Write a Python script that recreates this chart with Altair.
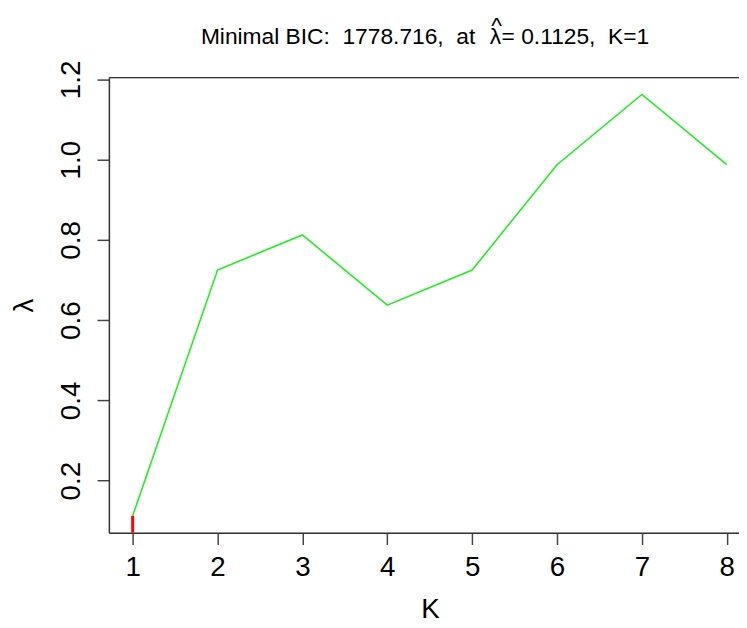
import altair as alt
import pandas as pd

K = [1, 2, 3, 4, 5, 6, 7, 8]
lam = [0.1125, 0.725, 0.8125, 0.6375, 0.725, 0.9875, 1.1625, 0.9875]
best_K = [1]
best_lam = [0.1125]
y_ticks = [0.2, 0.4, 0.6, 0.8, 1.0, 1.2]
title_parts = ["Minimal BIC:\u00a0 1778.716,\u00a0 at", "λ", "= 0.1125,\u00a0 K=1", "^"]

W, H = 637, 460
FONT = "Liberation Sans"

df = pd.DataFrame({"K": K, "lam": lam})
best = pd.DataFrame({"K": best_K, "lam": best_lam})

xscale = alt.Scale(domain=[0.72, 8.144], nice=False, zero=False)
yscale = alt.Scale(domain=[0.0705, 1.2045], nice=False, zero=False)

xaxis = alt.Axis(values=K, format="d", title="K", labelFontSize=28, titleFontSize=28,
                 labelFont=FONT, titleFont=FONT, labelColor="black", titleColor="black",
                 tickSize=12, tickColor="#444", tickWidth=1.5, domainColor="#333", domainWidth=1.5,
                 labelPadding=9, grid=False, titleFontWeight="normal",
                 titleX=324.5, titleY=78, titleBaseline="middle", titleAlign="center")
yaxis = alt.Axis(values=y_ticks, format=".1f", title="λ", labelFontSize=28, titleFontSize=28,
                 labelFont=FONT, titleFont=FONT, labelColor="black", titleColor="black",
                 tickSize=12, tickColor="#444", tickWidth=1.5, domainColor="#333", domainWidth=1.5,
                 labelAngle=-90, labelAlign="center", labelBaseline="alphabetic",
                 labelPadding=18, grid=False, titleFontWeight="normal",
                 titleAngle=-90, titleX=-85, titleY=H / 2, titleBaseline="middle", titleAlign="center")

line = alt.Chart(df).mark_line(color="#22ee22", strokeWidth=1.6).encode(
    x=alt.X("K:Q", scale=xscale, axis=xaxis),
    y=alt.Y("lam:Q", scale=yscale, axis=yaxis),
)

red = alt.Chart(best).mark_rule(color="#ff0000", strokeWidth=3).encode(
    x=alt.X("K:Q", scale=xscale),
    y=alt.Y("lam:Q", scale=yscale),
    y2=alt.value(H),
)

top = alt.Chart(best).mark_rule(color="#333", strokeWidth=1.5).encode(
    x=alt.value(0), x2=alt.value(W), y=alt.value(0)
)


def title_piece(text, x, y, align="left", size=23):
    return alt.Chart(pd.DataFrame({"t": [text]})).mark_text(
        font=FONT, fontSize=size, color="black", align=align, baseline="alphabetic"
    ).encode(text="t:N", x=alt.value(x), y=alt.value(y))


t1 = title_piece(title_parts[0], 93, -34.5)
t2 = title_piece(title_parts[1], 385, -34.5)
t3 = title_piece(title_parts[2], 397, -34.5)
t4 = title_piece(title_parts[3], 392, -45.5, align="center")

chart = alt.layer(line, red, top, t1, t2, t3, t4).properties(
    width=W, height=H,
    autosize=alt.AutoSizeParams(type="none"),
    padding={"left": 102, "top": 67, "right": 0, "bottom": 93},
).configure_view(stroke=None).configure(background="white")

chart.save("out.html", embed_options={"renderer": "svg", "actions": False})
